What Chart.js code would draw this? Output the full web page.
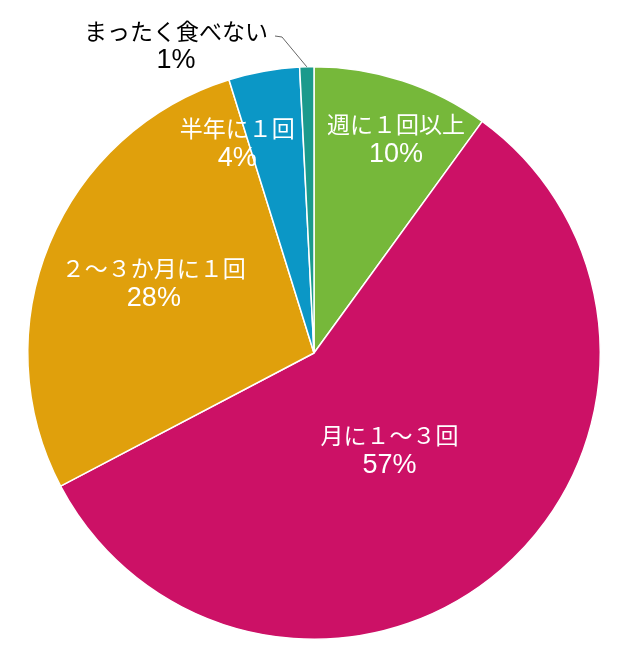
<!DOCTYPE html>
<html>
<head>
<meta charset="utf-8">
<script src="https://cdn.jsdelivr.net/npm/chart.js@4"></script>
<style>
  html, body { margin: 0; padding: 0; background: #fff; }
  #wrap { width: 628px; height: 667px; }
</style>
</head>
<body>
<div id="wrap"><canvas id="pieChart" width="628" height="667"></canvas></div>
<script>
const categories = ['週に１回以上', '月に１～３回', '２～３か月に１回', '半年に１回', 'まったく食べない'];
const shares = [10.0, 57.3, 27.9, 4.0, 0.8];
const shareLabels = ['10%', '57%', '28%', '4%', '1%'];
const sliceColors = ['#76b83a', '#cc1166', '#e0a00c', '#0b97c6', '#1b9a8c'];

// where each label sits: fraction of radius along the slice's mid angle (deg offset), or outside
const labelSpots = [
  { f: 0.80, da: 3 },
  { f: 0.43, da: 3 },
  { f: 0.61, da: 1 },
  { f: 0.78, da: -10 },
  { outside: true }
];

const labelPlugin = {
  id: 'sliceLabels',
  afterDatasetsDraw(chart) {
    const ctx = chart.ctx;
    const meta = chart.getDatasetMeta(0);
    const nameFont = '23px "Noto Sans CJK JP", sans-serif';
    const pctFont = '27px "Liberation Sans", Arial, sans-serif';
    ctx.save();
    ctx.textAlign = 'center';
    ctx.textBaseline = 'middle';
    meta.data.forEach((arc, i) => {
      const spot = labelSpots[i];
      const mid = (arc.startAngle + arc.endAngle) / 2;
      let x, y;
      if (spot.outside) {
        const ex = arc.x + Math.cos(mid) * arc.outerRadius;
        const ey = arc.y + Math.sin(mid) * arc.outerRadius;
        x = 176; y = 46;
        ctx.strokeStyle = '#666';
        ctx.lineWidth = 1;
        ctx.beginPath();
        ctx.moveTo(275, 36);
        ctx.lineTo(282, 37);
        ctx.lineTo(ex, ey);
        ctx.stroke();
        ctx.fillStyle = '#000';
      } else {
        const a = mid + spot.da * Math.PI / 180;
        const r = arc.outerRadius * spot.f;
        x = arc.x + Math.cos(a) * r;
        y = arc.y + Math.sin(a) * r;
        ctx.fillStyle = '#fff';
      }
      ctx.font = nameFont;
      ctx.fillText(categories[i], x, y - 15);
      ctx.font = pctFont;
      ctx.fillText(shareLabels[i], x, y + 15);
    });
    ctx.restore();
  }
};

new Chart(document.getElementById('pieChart'), {
  type: 'pie',
  data: {
    labels: categories,
    datasets: [{
      data: shares,
      backgroundColor: sliceColors,
      borderColor: '#fff',
      borderWidth: 1.5
    }]
  },
  options: {
    responsive: false,
    animation: false,
    layout: { padding: { top: 66, bottom: 27, left: 27, right: 27 } },
    plugins: {
      legend: { display: false },
      tooltip: { enabled: false }
    }
  },
  plugins: [labelPlugin]
});
</script>
</body>
</html>
